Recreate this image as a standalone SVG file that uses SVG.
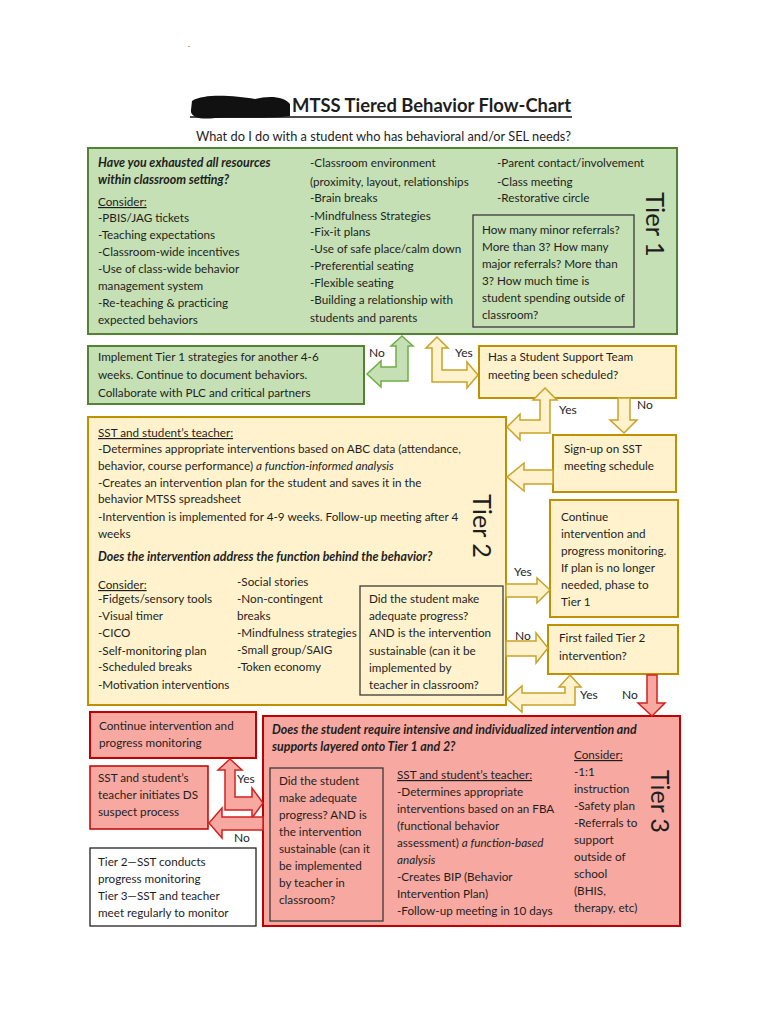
<svg xmlns="http://www.w3.org/2000/svg" width="768" height="1024" viewBox="0 0 768 1024">
<style>
text{font-family:Lato,"Liberation Sans",sans-serif;font-size:11.7px;fill:#1e1e1e}
.bi{font-weight:bold;font-style:italic;font-size:12.4px}
.i{font-style:italic}
.u{text-decoration:underline}
.tier{font-size:25px}
.lbl{font-size:12px}
.g{fill:#c5e0b4;stroke:#548235;stroke-width:2}
.y{fill:#fff2cc;stroke:#bf9000;stroke-width:2}
.r{fill:#f7a9a1;stroke:#c00000;stroke-width:2}
.inner{fill:none;stroke:#3a3a3a;stroke-width:1.3}
.w{fill:#fff;stroke:#222;stroke-width:1.3}
.ga{fill:#c5e0b4;stroke:#70ad47;stroke-width:1.5}
.ya{fill:#fff2cc;stroke:#c9a227;stroke-width:1.5}
.ra{fill:#f7a9a1;stroke:#d42020;stroke-width:1.5}
</style>
<rect width="768" height="1024" fill="#fff"/>
<text x="188" y="47" style="font-size:8px">.</text>
<g id="title">
<path d="M192,101 C205,93 235,96 255,99 C270,95 285,97 290,104 L290,116 C270,119 240,117 215,118 C200,120 190,117 191,110 Z" fill="#111"/>
<text x="292" y="112" style="font-size:18.5px;font-weight:bold" textLength="279" lengthAdjust="spacingAndGlyphs">MTSS Tiered Behavior Flow-Chart</text>
<line x1="190" y1="117" x2="572" y2="117" stroke="#111" stroke-width="1.5"/>
<text x="196" y="141" style="font-size:13px" textLength="375" lengthAdjust="spacingAndGlyphs">What do I do with a student who has behavioral and/or SEL needs?</text>
</g>
<g id="tier1">
<rect class="g" x="88" y="148" width="589" height="186"/>
<text class="bi" x="98" y="167">Have you exhausted all resources</text>
<text class="bi" x="98" y="184">within classroom setting?</text>
<text class="u" x="98" y="206">Consider:</text>
<text x="98" y="222">-PBIS/JAG tickets</text>
<text x="98" y="239">-Teaching expectations</text>
<text x="98" y="256">-Classroom-wide incentives</text>
<text x="98" y="273">-Use of class-wide behavior</text>
<text x="98" y="290">management system</text>
<text x="98" y="307">-Re-teaching &amp; practicing</text>
<text x="98" y="324">expected behaviors</text>
<text x="310" y="167">-Classroom environment</text>
<text x="310" y="186">(proximity, layout, relationships</text>
<text x="310" y="202">-Brain breaks</text>
<text x="310" y="220">-Mindfulness Strategies</text>
<text x="310" y="236">-Fix-it plans</text>
<text x="310" y="253">-Use of safe place/calm down</text>
<text x="310" y="270">-Preferential seating</text>
<text x="310" y="287">-Flexible seating</text>
<text x="310" y="304">-Building a relationship with</text>
<text x="310" y="322">students and parents</text>
<text x="497" y="167">-Parent contact/involvement</text>
<text x="497" y="186">-Class meeting</text>
<text x="497" y="202">-Restorative circle</text>
<rect class="inner" x="473" y="215" width="161" height="112"/>
<text x="482" y="234">How many minor referrals?</text>
<text x="482" y="251">More than 3? How many</text>
<text x="482" y="268">major referrals? More than</text>
<text x="482" y="285">3? How much time is</text>
<text x="482" y="302">student spending outside of</text>
<text x="482" y="319">classroom?</text>
<text class="tier" transform="translate(646,192) rotate(90)" textLength="65" lengthAdjust="spacingAndGlyphs">Tier 1</text>
</g>
<g id="implement-tier1">
<rect class="g" x="88" y="346" width="276" height="58"/>
<text x="98" y="361">Implement Tier 1 strategies for another 4-6</text>
<text x="98" y="379">weeks. Continue to document behaviors.</text>
<text x="98" y="397">Collaborate with PLC and critical partners</text>
</g>
<g id="sst-scheduled">
<rect class="y" x="479" y="346" width="197" height="52"/>
<text x="488" y="361">Has a Student Support Team</text>
<text x="488" y="379">meeting been scheduled?</text>
</g>
<g id="sign-up">
<rect class="y" x="553" y="435" width="123" height="57"/>
<text x="564" y="453">Sign-up on SST</text>
<text x="564" y="470">meeting schedule</text>
</g>
<g id="tier2">
<rect class="y" x="88" y="417" width="418" height="288"/>
<text class="u" x="98" y="437">SST and student’s teacher:</text>
<text x="98" y="453">-Determines appropriate interventions based on ABC data (attendance,</text>
<text x="98" y="470">behavior, course performance) <tspan class="i">a function-informed analysis</tspan></text>
<text x="98" y="487">-Creates an intervention plan for the student and saves it in the</text>
<text x="98" y="503">behavior MTSS spreadsheet</text>
<text x="98" y="521">-Intervention is implemented for 4-9 weeks. Follow-up meeting after 4</text>
<text x="98" y="538">weeks</text>
<text class="bi" x="98" y="561">Does the intervention address the function behind the behavior?</text>
<text class="u" x="98" y="589">Consider:</text>
<text x="98" y="603">-Fidgets/sensory tools</text>
<text x="98" y="620">-Visual timer</text>
<text x="98" y="637">-CICO</text>
<text x="98" y="655">-Self-monitoring plan</text>
<text x="98" y="671">-Scheduled breaks</text>
<text x="98" y="689">-Motivation interventions</text>
<text x="237" y="586">-Social stories</text>
<text x="237" y="603">-Non-contingent</text>
<text x="237" y="620">breaks</text>
<text x="237" y="637">-Mindfulness strategies</text>
<text x="237" y="654">-Small group/SAIG</text>
<text x="237" y="671">-Token economy</text>
<rect class="inner" x="360" y="586" width="143" height="109"/>
<text x="369" y="603">Did the student make</text>
<text x="369" y="620">adequate progress?</text>
<text x="369" y="637">AND is the intervention</text>
<text x="369" y="655">sustainable (can it be</text>
<text x="369" y="672">implemented by</text>
<text x="369" y="689">teacher in classroom?</text>
<text class="tier" transform="translate(473,494) rotate(90)" textLength="64" lengthAdjust="spacingAndGlyphs">Tier 2</text>
</g>
<g id="continue-tier2">
<rect class="y" x="550" y="500" width="128" height="117"/>
<text x="561" y="521">Continue</text>
<text x="561" y="538">intervention and</text>
<text x="561" y="555">progress monitoring.</text>
<text x="561" y="572">If plan is no longer</text>
<text x="561" y="589">needed, phase to</text>
<text x="561" y="606">Tier 1</text>
</g>
<g id="first-failed">
<rect class="y" x="548" y="625" width="130" height="49"/>
<text x="559" y="642">First failed Tier 2</text>
<text x="559" y="660">intervention?</text>
</g>
<g id="tier3">
<rect class="r" x="263" y="716" width="417" height="210"/>
<text class="bi" x="272" y="734">Does the student require intensive and individualized intervention and</text>
<text class="bi" x="272" y="751">supports layered onto Tier 1 and 2?</text>
<rect class="inner" x="270" y="768" width="113" height="153"/>
<text x="279" y="785">Did the student</text>
<text x="279" y="802">make adequate</text>
<text x="279" y="819">progress? AND is</text>
<text x="279" y="836">the intervention</text>
<text x="279" y="853">sustainable (can it</text>
<text x="279" y="870">be implemented</text>
<text x="279" y="887">by teacher in</text>
<text x="279" y="904">classroom?</text>
<text class="u" x="397" y="779">SST and student’s teacher:</text>
<text x="397" y="796">-Determines appropriate</text>
<text x="397" y="813">interventions based on an FBA</text>
<text x="397" y="830">(functional behavior</text>
<text x="397" y="847">assessment) <tspan class="i">a function-based</tspan></text>
<text class="i" x="397" y="864">analysis</text>
<text x="397" y="881">-Creates BIP (Behavior</text>
<text x="397" y="898">Intervention Plan)</text>
<text x="397" y="915">-Follow-up meeting in 10 days</text>
<text class="u" x="574" y="759">Consider:</text>
<text x="574" y="776">-1:1</text>
<text x="574" y="793">instruction</text>
<text x="574" y="810">-Safety plan</text>
<text x="574" y="827">-Referrals to</text>
<text x="574" y="844">support</text>
<text x="574" y="861">outside of</text>
<text x="574" y="878">school</text>
<text x="574" y="895">(BHIS,</text>
<text x="574" y="912">therapy, etc)</text>
<text class="tier" transform="translate(651,770) rotate(90)" textLength="63" lengthAdjust="spacingAndGlyphs">Tier 3</text>
</g>
<g id="continue-tier3">
<rect class="r" x="90" y="712" width="166" height="46"/>
<text x="99" y="730">Continue intervention and</text>
<text x="99" y="747">progress monitoring</text>
</g>
<g id="ds-suspect">
<rect class="r" x="90" y="766" width="118" height="63" style="stroke-width:1.5"/>
<text x="98" y="782">SST and student’s</text>
<text x="98" y="799">teacher initiates DS</text>
<text x="98" y="816">suspect process</text>
</g>
<g id="note">
<rect class="w" x="90" y="848" width="166" height="78"/>
<text x="98" y="866">Tier 2—SST conducts</text>
<text x="98" y="883">progress monitoring</text>
<text x="98" y="900">Tier 3—SST and teacher</text>
<text x="98" y="917">meet regularly to monitor</text>
</g>
<g id="connectors">
<path class="ga" d="M402,336 L413,346 L408,346 L408,381 L381,381 L381,387 L367,374 L381,361 L381,367 L396,367 L396,346 L391,346 Z"/>
<path class="ya" d="M437,337 L448,348 L442,348 L442,370 L467,370 L467,362 L478,375 L467,388 L467,382 L432,382 L432,348 L426,348 Z"/>
<path class="ya" d="M545,388 L557,400 L550,400 L550,433 L520,433 L520,440 L507,427 L520,414 L520,420 L540,420 L540,400 L533,400 Z"/>
<path class="ya" d="M618,398 L630,398 L630,420 L637,420 L624,433 L610,420 L618,420 Z"/>
<path class="ya" d="M553,470 L524,470 L524,463 L507,477 L524,491 L524,484 L553,484 Z"/>
<path class="ya" d="M506,584 L537,584 L537,578 L550,590 L537,603 L537,597 L506,597 Z"/>
<path class="ya" d="M506,641 L536,641 L536,633 L548,648 L536,663 L536,656 L506,656 Z"/>
<path class="ya" d="M570,675 L581,687 L575,687 L575,705 L522,705 L522,712 L507,699 L522,686 L522,693 L565,693 L565,687 L559,687 Z"/>
<path class="ra" d="M647,675 L657,675 L657,703 L665,703 L652,716 L638,703 L647,703 Z"/>
<path class="ra" d="M230,759 L242,770 L235,770 L235,797 L252,797 L252,788 L263,803 L252,818 L252,810 L225,810 L225,770 L218,770 Z"/>
<path class="ra" d="M263,817 L222,817 L222,808 L209,823 L222,838 L222,830 L263,830 Z"/>
<text class="lbl" x="369" y="357">No</text>
<text class="lbl" x="455" y="357">Yes</text>
<text class="lbl" x="559" y="414">Yes</text>
<text class="lbl" x="637" y="409">No</text>
<text class="lbl" x="514" y="576">Yes</text>
<text class="lbl" x="515" y="640">No</text>
<text class="lbl" x="580" y="699">Yes</text>
<text class="lbl" x="622" y="699">No</text>
<text class="lbl" x="237" y="783">Yes</text>
<text class="lbl" x="234" y="842">No</text>
</g>
</svg>
